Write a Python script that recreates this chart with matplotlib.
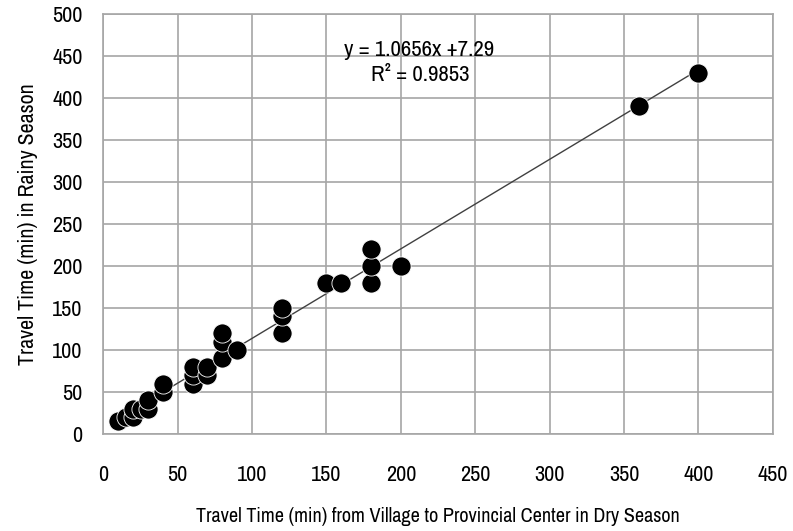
import matplotlib
matplotlib.use("Agg")
import matplotlib.pyplot as plt
import numpy as np

# Travel times (minutes) per village
dry_season = [10, 15, 20, 20, 25, 30, 30, 40, 40, 60, 60, 60, 70, 70, 80, 80, 80, 90,
              120, 120, 120, 150, 160, 180, 180, 180, 200, 360, 400]
rainy_season = [15, 20, 20, 30, 30, 30, 40, 50, 60, 60, 70, 80, 70, 80, 90, 110, 120, 100,
                120, 140, 150, 180, 180, 180, 200, 220, 200, 390, 430]

slope = 1.0656
intercept = 7.29
r_squared = 0.9853

x_ticks = list(range(0, 451, 50))
y_ticks = list(range(0, 501, 50))

plt.rcParams['font.family'] = ['Archivo Narrow', 'DejaVu Sans']

fig = plt.figure(figsize=(7.93, 5.31), dpi=100)
ax = fig.add_axes([0.1303, 0.1827, 0.9744 - 0.1303, 0.9736 - 0.1827])

grid_col = '#a6a6a6'
ax.set_xlim(0, 450)
ax.set_ylim(0, 500)
ax.set_xticks(x_ticks)
ax.set_yticks(y_ticks)
ax.grid(True, color=grid_col, linewidth=1.2)
ax.set_axisbelow(True)
for s in ax.spines.values():
    s.set_color(grid_col)
    s.set_linewidth(1.2)
ax.tick_params(length=0, labelsize=16, colors='black')
ax.tick_params(axis='x', pad=22)
ax.tick_params(axis='y', pad=15)

# Linear trendline over the observed range
xs = np.array([min(dry_season), max(dry_season)])
ax.plot(xs, slope * xs + intercept, color='#404040', linewidth=1.0, zorder=2)

ax.scatter(dry_season, rainy_season, s=190, color='black', edgecolors='white',
           linewidths=0.6, zorder=3)

ax.text(0.472, 0.914, f"y = {slope}x +{intercept}", transform=ax.transAxes,
        ha='center', va='center', fontsize=16.5)
ax.text(0.473, 0.855, f"R² = {r_squared}", transform=ax.transAxes,
        ha='center', va='center', fontsize=16.5)

ax.set_xlabel("Travel Time (min) from Village to Provincial Center in Dry Season",
              fontsize=14.5, labelpad=16)
ax.set_ylabel("Travel Time (min) in Rainy Season", fontsize=15.8, labelpad=10)

fig.savefig("out.png", dpi=100)
